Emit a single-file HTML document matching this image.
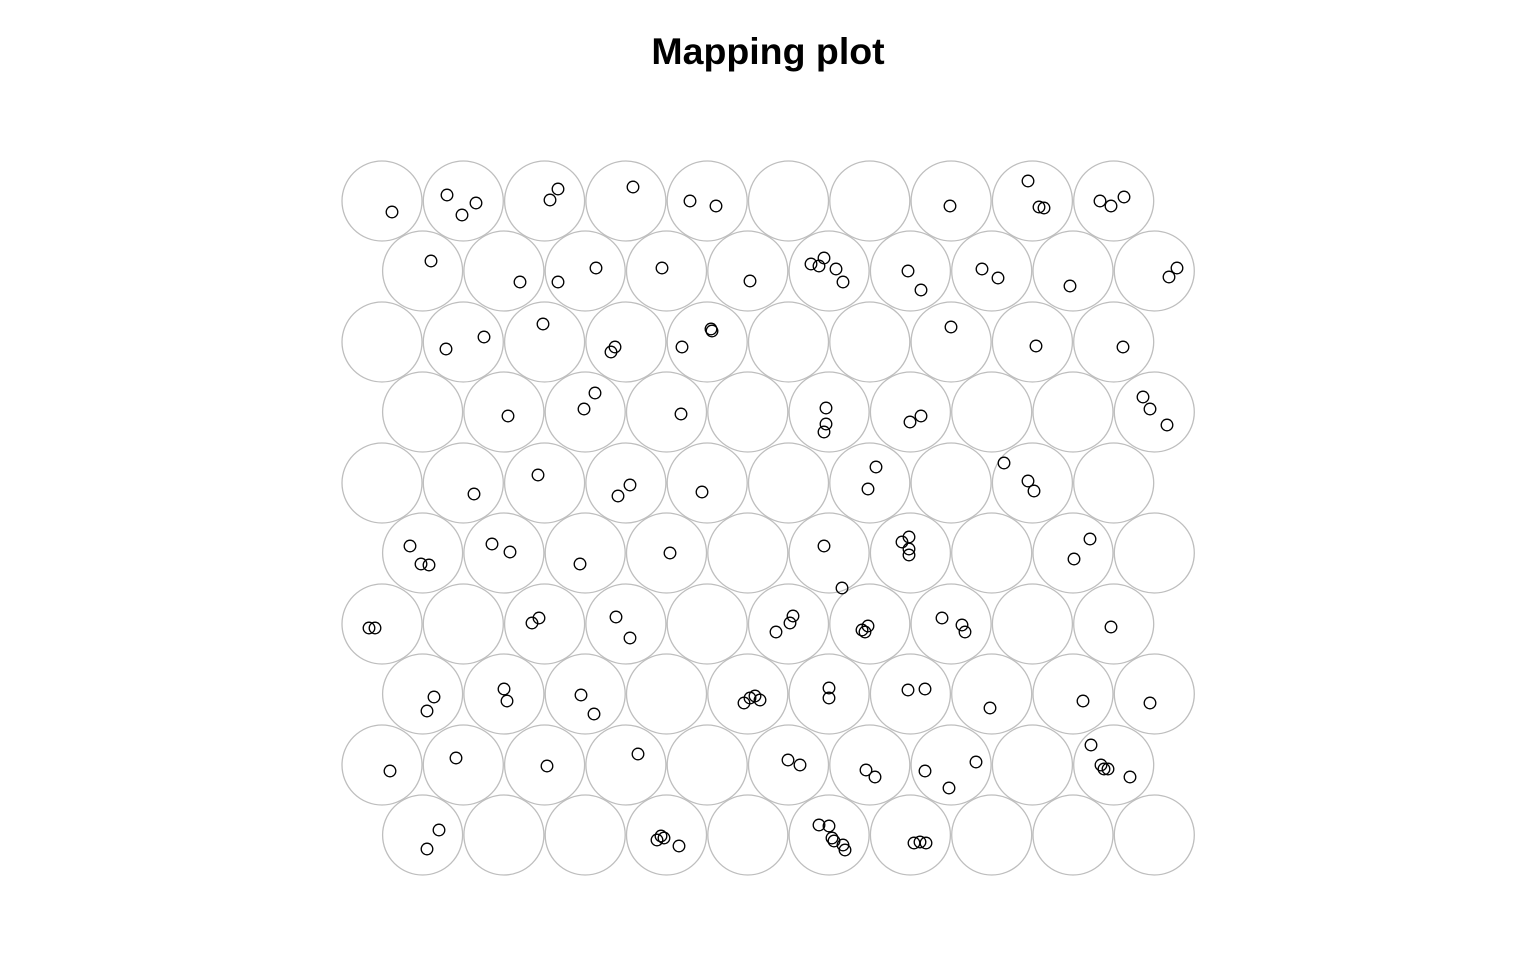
<!DOCTYPE html>
<html><head><meta charset="utf-8"><style>
html,body{margin:0;padding:0;background:#fff;}
svg{display:block;}
</style></head><body>
<svg width="1536" height="960" xmlns="http://www.w3.org/2000/svg">
<rect width="1536" height="960" fill="#fff"/>
<text x="768" y="64" text-anchor="middle" font-family="Liberation Sans, Arial, sans-serif" font-weight="bold" font-size="37.5">Mapping plot</text>
<g id="grid" fill="none" stroke="#bebebe" stroke-width="1.3"></g>
<g id="pts" fill="none" stroke="#000" stroke-width="1.3"></g>
<script>
var g=document.getElementById('grid');
var ys=[201,271,342,412,483,553,624,694,765,835];
for(var r=0;r<10;r++){for(var c=0;c<10;c++){
var x=382+c*81.3+(r%2?40.6:0);
var e=document.createElementNS('http://www.w3.org/2000/svg','circle');
e.setAttribute('cx',x);e.setAttribute('cy',ys[r]);e.setAttribute('r',40);g.appendChild(e);}}
var P=[[392,212],[447,195],[462,215],[476,203],[550,200],[558,189],[633,187],[690,201],[716,206],[950,206],[1028,181],[1039,207],[1044,208],[1100,201],[1111,206],[1124,197],
[431,261],[520,282],[558,282],[596,268],[662,268],[750,281],[811,264],[819,266],[824,258],[836,269],[843,282],[908,271],[921,290],[982,269],[998,278],[1070,286],[1169,277],[1177,268],
[446,349],[484,337],[543,324],[611,352],[615,347],[682,347],[711,329],[712,331],[951,327],[1036,346],[1123,347],
[508,416],[584,409],[595,393],[681,414],[826,408],[826,424],[824,432],[910,422],[921,416],[1143,397],[1150,409],[1167,425],
[474,494],[538,475],[618,496],[630,485],[702,492],[876,467],[868,489],[1004,463],[1028,481],[1034,491],
[410,546],[421,564],[429,565],[492,544],[510,552],[580,564],[670,553],[824,546],[842,588],[902,542],[909,537],[909,549],[909,555],[1074,559],[1090,539],
[369,628],[375,628],[532,623],[539,618],[616,617],[630,638],[776,632],[793,616],[790,623],[862,630],[868,626],[865,632],[942,618],[962,625],[965,632],[1111,627],
[434,697],[427,711],[504,689],[507,701],[581,695],[594,714],[744,703],[750,698],[755,696],[760,700],[829,688],[829,698],[908,690],[925,689],[990,708],[1083,701],[1150,703],
[390,771],[456,758],[547,766],[638,754],[788,760],[800,765],[866,770],[875,777],[925,771],[949,788],[976,762],[1091,745],[1101,765],[1104,769],[1108,769],[1130,777],
[439,830],[427,849],[657,840],[661,836],[664,838],[679,846],[819,825],[829,826],[832,838],[834,841],[843,845],[845,850],[914,843],[920,842],[926,843]];
var pg=document.getElementById('pts');
P.forEach(function(p){var e=document.createElementNS('http://www.w3.org/2000/svg','circle');
e.setAttribute('cx',p[0]);e.setAttribute('cy',p[1]);e.setAttribute('r',5.8);pg.appendChild(e);});
</script>
</svg>
</body></html>
